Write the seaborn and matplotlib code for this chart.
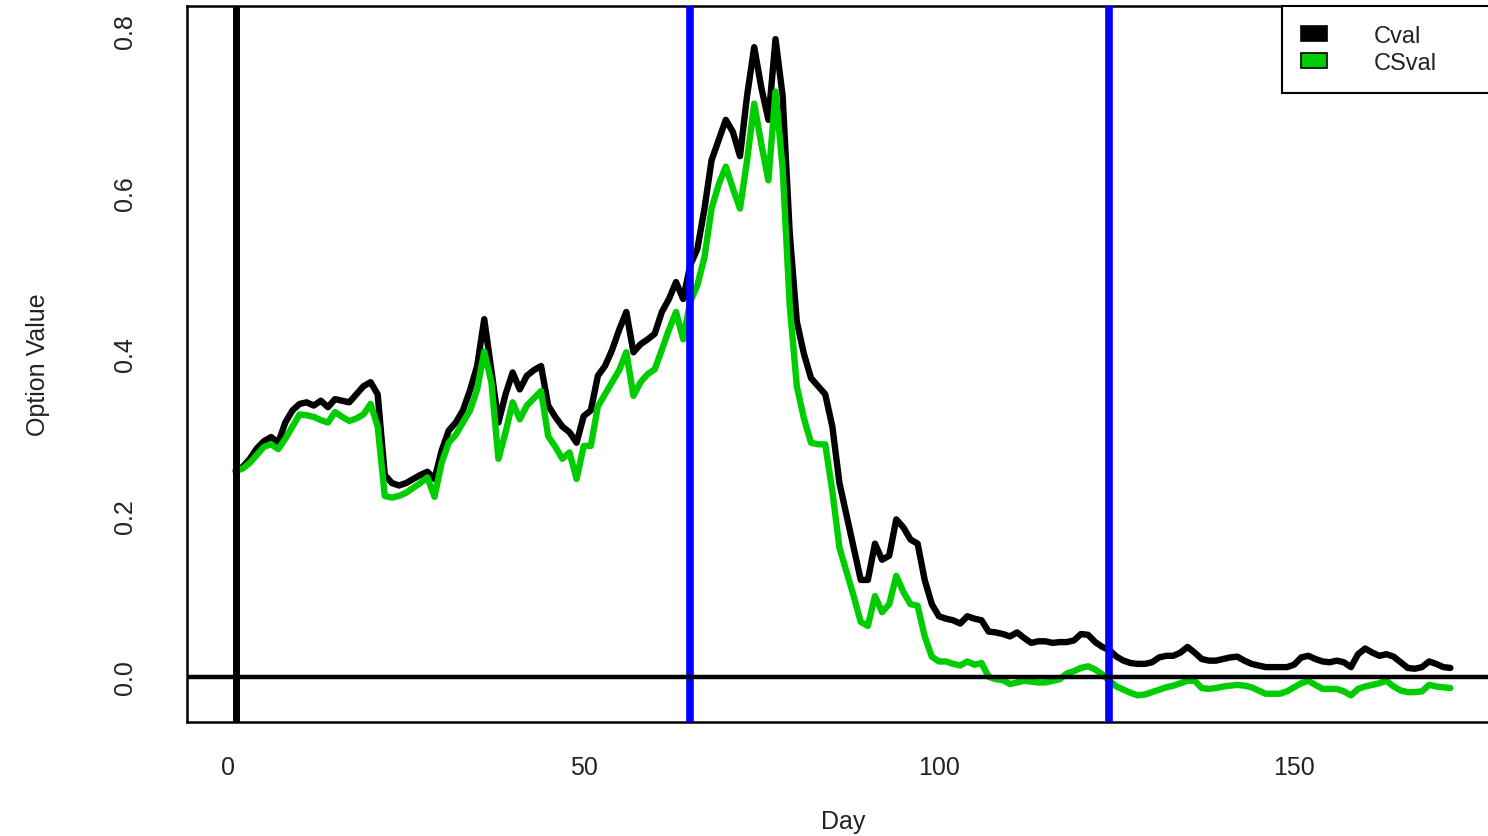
import numpy as np
import pandas as pd
import matplotlib
matplotlib.use("Agg")
import matplotlib.pyplot as plt
from matplotlib.patches import Patch
import seaborn as sns

# ---- data ----
cval = [
    0.255, 0.26, 0.27, 0.283, 0.292, 0.297, 0.29, 0.315, 0.33, 0.338,
    0.34, 0.336, 0.342, 0.334, 0.344, 0.342, 0.34, 0.35, 0.36, 0.365,
    0.35, 0.25, 0.24, 0.237, 0.24, 0.245, 0.25, 0.254, 0.245, 0.28,
    0.305, 0.315, 0.33, 0.355, 0.385, 0.443, 0.38, 0.315, 0.35, 0.377,
    0.356, 0.373, 0.38, 0.385, 0.336, 0.322, 0.31, 0.303, 0.29, 0.323,
    0.33, 0.373, 0.385, 0.405, 0.43, 0.452, 0.402, 0.412, 0.418, 0.425,
    0.452, 0.468, 0.489, 0.468, 0.51, 0.53, 0.58, 0.64, 0.665, 0.69,
    0.675, 0.645, 0.72, 0.78, 0.73, 0.69, 0.79, 0.72, 0.55, 0.44,
    0.40, 0.37, 0.36, 0.35, 0.31, 0.24, 0.20, 0.16, 0.12, 0.12,
    0.165, 0.145, 0.15, 0.195, 0.185, 0.17, 0.165, 0.12, 0.09, 0.075,
    0.072, 0.07, 0.066, 0.075, 0.072, 0.07, 0.056, 0.055, 0.053, 0.05,
    0.055, 0.048, 0.042, 0.044, 0.044, 0.042, 0.043, 0.043, 0.045, 0.053,
    0.052, 0.043, 0.037, 0.033, 0.025, 0.02, 0.017, 0.016, 0.016, 0.018,
    0.024, 0.026, 0.026, 0.03, 0.037, 0.03, 0.022, 0.02, 0.02, 0.022,
    0.024, 0.025, 0.02, 0.016, 0.014, 0.012, 0.012, 0.012, 0.012, 0.015,
    0.024, 0.026, 0.022, 0.019, 0.018, 0.02, 0.018, 0.012, 0.028, 0.035,
    0.03, 0.026, 0.028, 0.025, 0.018, 0.011, 0.01, 0.012, 0.019, 0.016,
    0.012, 0.011,
]
csval = [
    0.255, 0.258, 0.265, 0.275, 0.285, 0.288, 0.282, 0.295, 0.31, 0.325,
    0.324, 0.322, 0.318, 0.315, 0.328, 0.322, 0.317, 0.32, 0.325, 0.338,
    0.31, 0.224, 0.222, 0.224, 0.228, 0.234, 0.24, 0.247, 0.223, 0.265,
    0.29, 0.3, 0.315, 0.33, 0.356, 0.403, 0.365, 0.27, 0.303, 0.34,
    0.319, 0.336, 0.345, 0.354, 0.298, 0.285, 0.27, 0.278, 0.245, 0.286,
    0.286, 0.335, 0.35, 0.365, 0.38, 0.402, 0.348, 0.365, 0.375, 0.381,
    0.405, 0.43, 0.452, 0.418, 0.465, 0.485, 0.52, 0.58, 0.61, 0.632,
    0.605, 0.58, 0.64, 0.71, 0.66, 0.615, 0.725, 0.63, 0.46, 0.36,
    0.32, 0.29, 0.288, 0.288, 0.23, 0.16, 0.13, 0.10, 0.068, 0.063,
    0.10, 0.08, 0.09, 0.125, 0.105, 0.09, 0.088, 0.05, 0.025, 0.019,
    0.019, 0.016, 0.014, 0.019, 0.015, 0.017, 0.0, -0.003, -0.004, -0.009,
    -0.007, -0.005, -0.006, -0.007, -0.007, -0.005, -0.003, 0.004, 0.007, 0.011,
    0.013, 0.009, 0.003, -0.005, -0.012, -0.016, -0.02, -0.023, -0.022, -0.019,
    -0.016, -0.013, -0.011, -0.008, -0.005, -0.005, -0.014, -0.015, -0.014, -0.012,
    -0.011, -0.01, -0.011, -0.013, -0.017, -0.021, -0.021, -0.021, -0.018, -0.013,
    -0.008, -0.005, -0.01, -0.015, -0.015, -0.015, -0.018, -0.023, -0.015, -0.012,
    -0.01, -0.008, -0.005, -0.012, -0.017, -0.019, -0.019, -0.018, -0.01, -0.012,
    -0.013, -0.014,
]
days = list(range(1, len(cval) + 1))
series_names = ["Cval", "CSval"]
black_vline_day = 1
blue_vline_days = [65, 124]
x_ticks = [0, 50, 100, 150]
y_ticks = [0.0, 0.2, 0.4, 0.6, 0.8]
y_tick_labels = ["0.0", "0.2", "0.4", "0.6", "0.8"]
x_label = "Day"
y_label = "Option Value"

# ---- styling ----
sns.set_style("white")
plt.rcParams["font.family"] = ["Liberation Sans", "DejaVu Sans"]

W, H = 1488, 837
fig = plt.figure(figsize=(W / 100, H / 100), dpi=100)
left, right, top, bottom = 187, 1499, 7, 723
ax = fig.add_axes([left / W, (H - bottom) / H, (right - left) / W, (bottom - top) / H])

df = pd.DataFrame({"Day": days, "Cval": cval, "CSval": csval})
green = "#00CD00"
sns.lineplot(data=df, x="Day", y="Cval", color="black", linewidth=4.6, ax=ax,
             solid_capstyle="round", solid_joinstyle="round")
sns.lineplot(data=df, x="Day", y="CSval", color=green, linewidth=4.6, ax=ax,
             solid_capstyle="round", solid_joinstyle="round")

ax.axvline(black_vline_day, color="black", linewidth=5.0, zorder=3)
for d in blue_vline_days:
    ax.axvline(d, color="#0000FF", linewidth=5.5, zorder=3)
ax.axhline(0, color="black", linewidth=3.2, zorder=3)

ax.set_xlim(-5.84, 178.84)
ax.set_ylim(-0.056, 0.831)
ax.set_xticks(x_ticks)
ax.set_xticklabels([str(t) for t in x_ticks], fontsize=18)
ax.set_yticks(y_ticks)
ax.set_yticklabels(y_tick_labels, fontsize=18, rotation=90, va="center", ha="right")
ax.tick_params(axis="x", direction="out", length=14, width=1.5, pad=10, colors="black")
ax.tick_params(axis="y", direction="out", length=14, width=1.5, pad=22, colors="black")
for lab in ax.get_xticklabels() + ax.get_yticklabels():
    lab.set_color("#222222")

ax.set_xlabel(x_label, fontsize=18, color="#222222")
ax.set_ylabel(y_label, fontsize=18, color="#222222")
ax.xaxis.set_label_coords(0.5, -(810 - bottom) / (bottom - top))
ax.yaxis.set_label_coords(-(187 - 50) / (right - left), 0.5)

for sp in ax.spines.values():
    sp.set_color("black")
    sp.set_linewidth(1.8)
    sp.set_visible(True)
ax.grid(False)

handles = [Patch(facecolor="black", edgecolor="black", linewidth=1.2),
           Patch(facecolor=green, edgecolor="black", linewidth=1.2)]
x0 = (1282 - left) / (right - left)
leg = ax.legend(handles, series_names, loc="upper left",
                bbox_to_anchor=(x0, 0.0, 1.0 - x0, 1.0), mode="expand",
                borderaxespad=0.0, fontsize=17, frameon=True, fancybox=False,
                shadow=False, framealpha=1.0, edgecolor="black",
                borderpad=0.8, labelspacing=0.22, handlelength=1.1,
                handleheight=0.6, handletextpad=2.0)
leg.get_frame().set_linewidth(1.5)
for t in leg.get_texts():
    t.set_color("#222222")

fig.savefig("out.png", dpi=100)
